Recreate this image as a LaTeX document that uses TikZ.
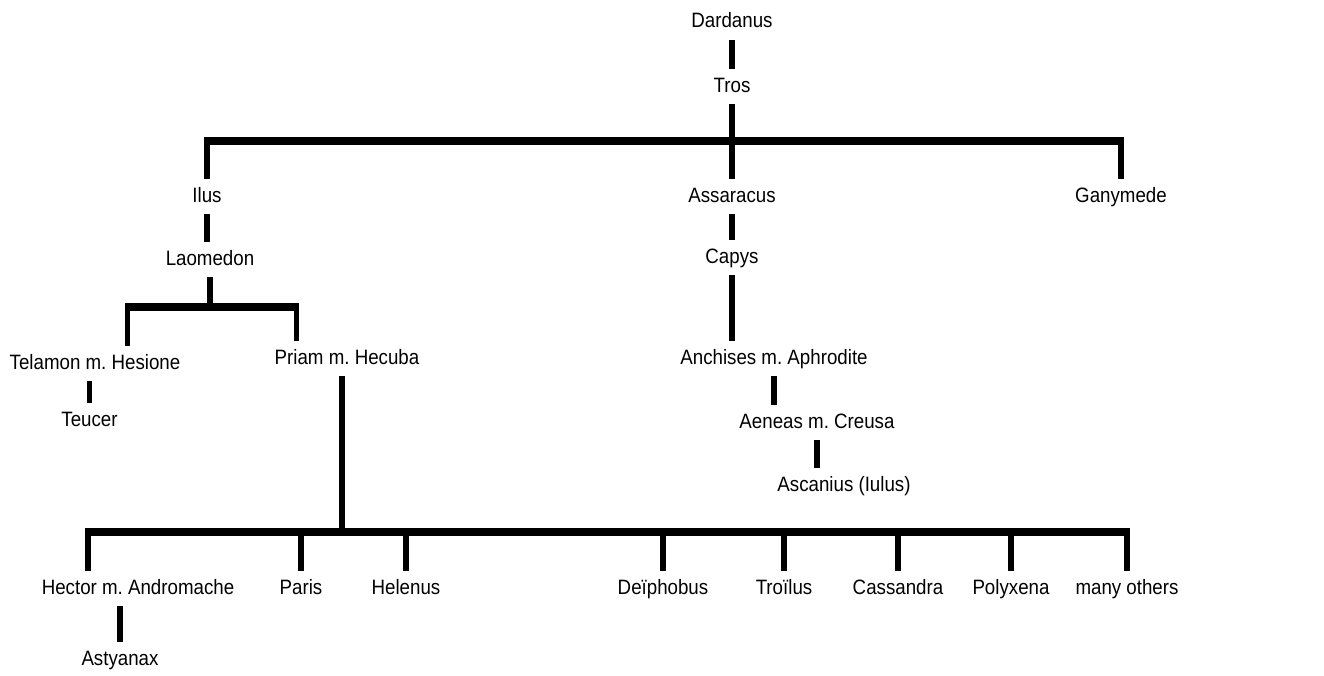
\documentclass[tikz,border=0pt]{standalone}
\usepackage{fontspec}
\setmainfont{Liberation Sans}[FakeStretch=0.9]
\frenchspacing
\begin{document}
\begin{tikzpicture}[x=1pt,y=-1pt,
  person/.style={anchor=base,inner xsep=2pt,inner ysep=7.5pt,text height=15pt,text depth=4.5pt,font=\fontsize{20.8}{24}\selectfont},
  vline/.style={line width=5.5pt,line cap=butt},
  hbar/.style={line width=7.5pt,line cap=butt,shorten <=-2.75pt,shorten >=-2.75pt}]
\useasboundingbox (0,0) rectangle (1324,675);
% people
\node[person] (dard) at (732,27.5) {Dardanus};
\node[person] (tros) at (732,92) {Tros};
\node[person] (ilus) at (207,202) {Ilus};
\node[person] (assa) at (732,202) {Assaracus};
\node[person] (gany) at (1121,202) {Ganymede};
\node[person] (laom) at (210,265) {Laomedon};
\node[person] (capys) at (732,263) {Capys};
\node[person] (telamon) at (95,369) {Telamon m. Hesione};
\node[person] (priam) at (347,364) {Priam m. Hecuba};
\node[person] (anch) at (774,364) {Anchises m. Aphrodite};
\node[person] (teucer) at (89.5,426) {Teucer};
\node[person] (aeneas) at (817,428) {Aeneas m. Creusa};
\node[person] (asca) at (844,491) {Ascanius (Iulus)};
\node[person] (hector) at (138,594) {Hector m. Andromache};
\node[person] (paris) at (301,594) {Paris};
\node[person] (helenus) at (406,594) {Helenus};
\node[person] (deiph) at (663,594) {Deïphobus};
\node[person] (troilus) at (784,594) {Troïlus};
\node[person] (cass) at (898,594) {Cassandra};
\node[person] (polyx) at (1011,594) {Polyxena};
\node[person] (many) at (1127,594) {many others};
\node[person] (asty) at (120,665) {Astyanax};
% junction coordinates
\coordinate (topbar) at (732,141);
\coordinate (lbar) at (210,307);
\coordinate (telj) at (127.5,307);
\coordinate (prij) at (296.5,307);
\coordinate (pline) at (342,364);
\coordinate (cbar) at (342,532);
\coordinate (hecj) at (88,532);
% top generation
\draw[vline] (dard.south) -- (tros.north);
\draw[vline] (tros.south) -- (assa.north);
\draw[hbar] (ilus.north |- topbar) -- (gany.north |- topbar);
\draw[vline] (ilus.north |- topbar) -- (ilus.north);
\draw[vline] (gany.north |- topbar) -- (gany.north);
% Ilus line
\draw[vline] (ilus.south) -- (ilus.south |- laom.north);
\draw[vline] (laom.south) -- (lbar);
\draw[hbar] (telj) -- (prij);
\draw[vline] (telj) -- (telj |- telamon.north);
\draw[vline] (prij) -- (prij |- priam.north);
\draw[vline] (teucer.north |- telamon.south) -- (teucer.north);
% Assaracus line
\draw[vline] (assa.south) -- (capys.north);
\draw[vline] (capys.south) -- (capys.south |- anch.north);
\draw[vline] (anch.south) -- (anch.south |- aeneas.north);
\draw[vline] (aeneas.south) -- (aeneas.south |- asca.north);
% Priam's children
\draw[vline] (pline |- priam.south) -- (cbar);
\draw[hbar] (hecj) -- (many.north |- cbar);
\draw[vline] (hecj) -- (hecj |- hector.north);
\foreach \c in {paris,helenus,deiph,troilus,cass,polyx,many}
  \draw[vline] (\c.north |- cbar) -- (\c.north);
\draw[vline] (asty.north |- hector.south) -- (asty.north);
\end{tikzpicture}
\end{document}
